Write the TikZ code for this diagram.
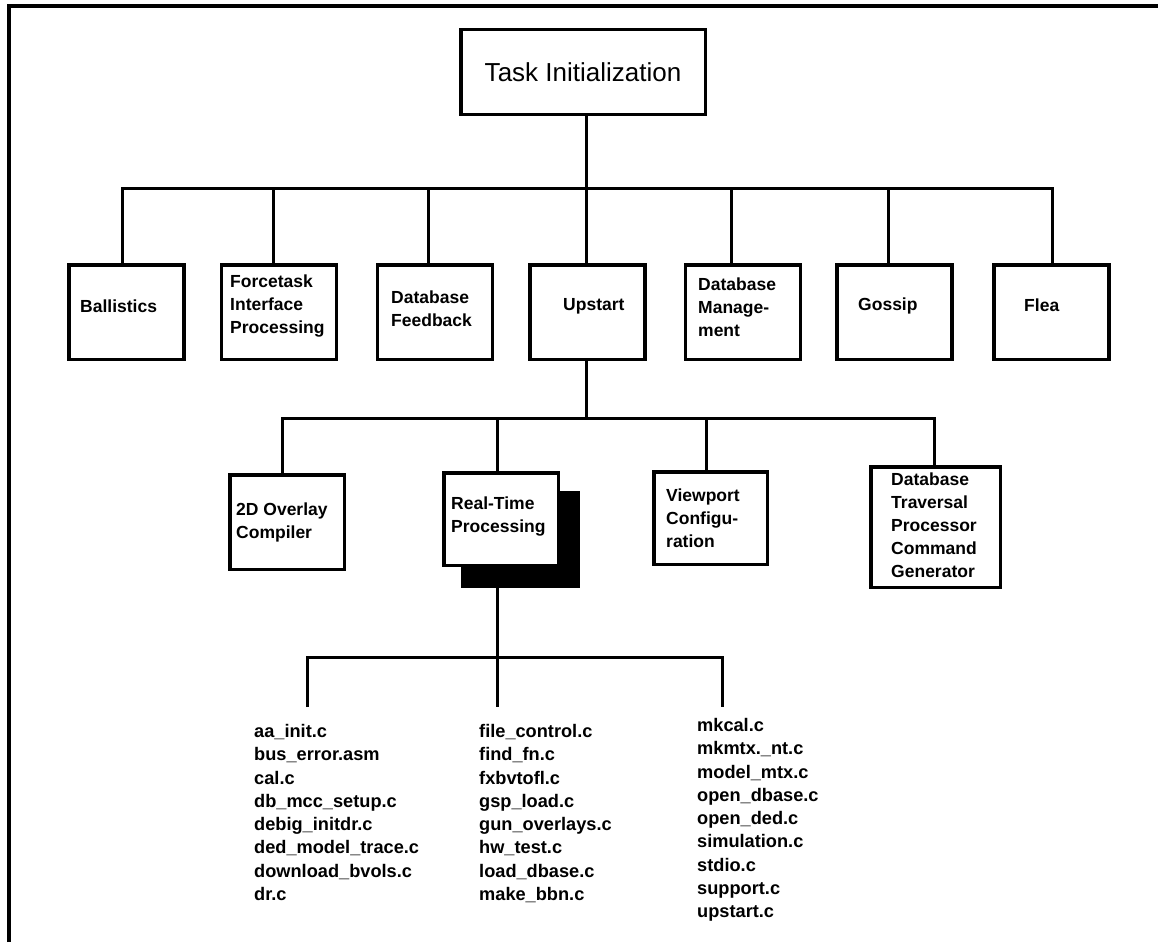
\documentclass[tikz,border=0pt]{standalone}
\usepackage{fontspec}
\setmainfont{Liberation Sans}
\begin{document}
\begin{tikzpicture}[x=1pt,y=-1pt,
  wire/.style={line width=3pt},
  box/.style={draw, line width=3.5pt, fill=white, inner sep=0pt},
  rowone/.style={box, minimum width=115pt, minimum height=94.5pt},
  lbl/.style={font=\fontsize{17.5}{23}\selectfont\bfseries, align=left, anchor=west, inner sep=0pt},
  files/.style={font=\fontsize{18.2}{23.3}\selectfont\bfseries, align=left, anchor=north west, inner sep=0pt},
]
\useasboundingbox (0,0) rectangle (1158,942);

% page frame (top and left rules)
\coordinate (fbl) at (9,942);
\coordinate (ftl) at (9,6.5);
\coordinate (ftr) at (1158,6.5);
\draw[line width=4pt] (fbl) -- (ftl) -- (ftr);

% root
\node[box, minimum width=244.5pt, minimum height=84.5pt,
      font=\fontsize{26}{30}\selectfont] (task) at (583,72) {Task Initialization};

% first level
\node[rowone] (ball)  at (126.5,312) {};
\node[rowone] (force) at (279,312) {};
\node[rowone] (dbf)   at (435,312) {};
\node[rowone] (up)    at (587.5,312) {};
\node[rowone] (dbm)   at (743,312) {};
\node[rowone] (gos)   at (894.5,312) {};
\node[rowone] (flea)  at (1051.5,312) {};

\node[lbl] (ballT)  at (80,306)    {Ballistics};
\node[lbl] (forceT) at (230,306)   {Forcetask\\Interface\\Processing};
\node[lbl] (dbfT)   at (391,309)   {Database\\Feedback};
\node[lbl] (upT)    at (563,306)   {Upstart};
\node[lbl] (dbmT)   at (698,307)   {Database\\Manage-\\ment};
\node[lbl] (gosT)   at (858,306)   {Gossip};
\node[lbl] (fleaT)  at (1024,305)  {Flea};

% second level
\node[fill=black, inner sep=0pt, minimum width=119pt, minimum height=97pt] (rtshadow) at (520.5,539.5) {};
\node[box, minimum width=114.5pt, minimum height=94.5pt] (ovl) at (287,522) {};
\node[box, minimum width=114.5pt, minimum height=92.5pt] (rt)  at (501,519) {};
\node[box, minimum width=113.5pt, minimum height=92.5pt] (vp)  at (710.5,518) {};
\node[box, minimum width=129.5pt, minimum height=120.5pt] (dbt) at (935.5,527) {};

\node[lbl] (ovlT) at (236,522)   {2D Overlay\\Compiler};
\node[lbl] (rtT)  at (451,517)   {Real-Time\\Processing};
\node[lbl] (vpT)  at (666,518.5) {Viewport\\Configu-\\ration};
\node[lbl] (dbtT) at (891,525.5) {Database\\Traversal\\Processor\\Command\\Generator};

% source file lists
\node[files] (colA) at (254,724) {aa\_init.c\\bus\_error.asm\\cal.c\\db\_mcc\_setup.c\\debig\_initdr.c\\ded\_model\_trace.c\\download\_bvols.c\\dr.c};
\node[files] (colB) at (479,724) {file\_control.c\\find\_fn.c\\fxbvtofl.c\\gsp\_load.c\\gun\_overlays.c\\hw\_test.c\\load\_dbase.c\\make\_bbn.c};
\node[files] (colC) at (697,718) {mkcal.c\\mkmtx.\_nt.c\\model\_mtx.c\\open\_dbase.c\\open\_ded.c\\simulation.c\\stdio.c\\support.c\\upstart.c};

% connectors: root to first level
\coordinate (b1) at (586,188);
\coordinate (d1a) at (122,188);
\coordinate (d1b) at (273,188);
\coordinate (d1c) at (428,188);
\coordinate (d1e) at (731,188);
\coordinate (d1f) at (888,188);
\coordinate (d1g) at (1052,188);
\draw[wire] (b1 |- task.south) -- (b1);
\draw[wire] (d1a |- ball.north) -- (d1a) -- (d1g) -- (d1g |- flea.north);
\draw[wire] (d1b) -- (d1b |- force.north);
\draw[wire] (d1c) -- (d1c |- dbf.north);
\draw[wire] (b1) -- (b1 |- up.north);
\draw[wire] (d1e) -- (d1e |- dbm.north);
\draw[wire] (d1f) -- (d1f |- gos.north);

% Upstart to second level
\coordinate (b2) at (586,418);
\coordinate (d2a) at (282,418);
\coordinate (d2b) at (497,418);
\coordinate (d2c) at (706,418);
\coordinate (d2d) at (934,418);
\draw[wire] (b2 |- up.south) -- (b2);
\draw[wire] (d2a |- ovl.north) -- (d2a) -- (d2d) -- (d2d |- dbt.north);
\draw[wire] (d2b) -- (d2b |- rt.north);
\draw[wire] (d2c) -- (d2c |- vp.north);

% Real-Time Processing to its source files
\coordinate (b3) at (497,657);
\coordinate (d3a) at (307,657);
\coordinate (d3c) at (722,657);
\coordinate (e3a) at (307,707);
\coordinate (e3b) at (497,707);
\coordinate (e3c) at (722,707);
\draw[wire] (b3 |- rtshadow.south) -- (e3b);
\draw[wire] (e3a) -- (d3a) -- (d3c) -- (e3c);
\end{tikzpicture}
\end{document}
